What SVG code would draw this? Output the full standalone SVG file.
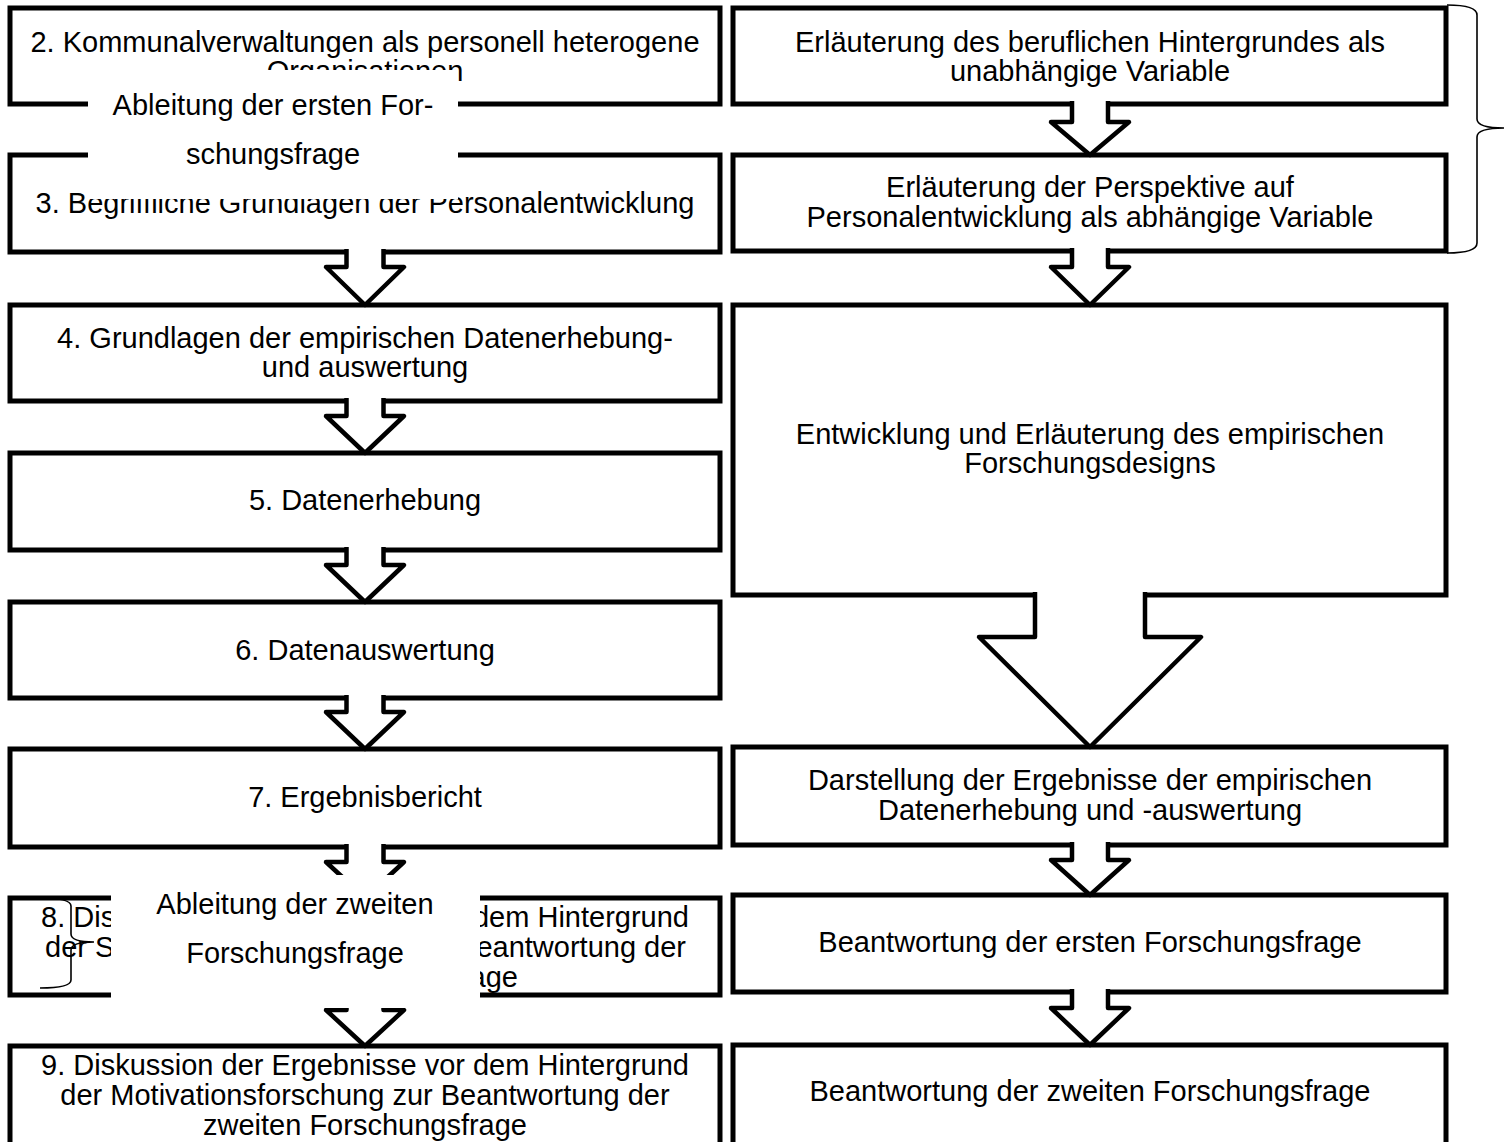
<svg xmlns="http://www.w3.org/2000/svg" width="1504" height="1142" viewBox="0 0 1504 1142">
  <style>
    .box { fill: #ffffff; stroke: #000000; stroke-width: 5; }
    .arrow { fill: #ffffff; stroke: #000000; stroke-width: 4.5; stroke-linejoin: round; }
    .t { font-family: "Liberation Sans", Arial, sans-serif; font-size: 29px; fill: #000000; text-anchor: middle; }
    .ts { text-anchor: start; }
    .te { text-anchor: end; }
    .mask { fill: #ffffff; stroke: none; }
    .brace { fill: none; stroke: #000000; stroke-width: 1.6; }
  </style>

  <!-- left column: chapter boxes -->
  <g id="kap2"><rect class="box" x="10" y="8" width="710" height="96"/>
    <text class="t" x="365" y="52">2. Kommunalverwaltungen als personell heterogene</text>
    <text class="t" x="365" y="81">Organisationen</text></g>
  <g id="kap3"><rect class="box" x="10" y="155" width="710" height="97"/>
    <text class="t" x="365" y="213">3. Begriffliche Grundlagen der Personalentwicklung</text></g>
  <g id="kap4"><rect class="box" x="10" y="305" width="710" height="96"/>
    <text class="t" x="365" y="348">4. Grundlagen der empirischen Datenerhebung-</text>
    <text class="t" x="365" y="377">und auswertung</text></g>
  <g id="kap5"><rect class="box" x="10" y="453" width="710" height="97"/>
    <text class="t" x="365" y="510">5. Datenerhebung</text></g>
  <g id="kap6"><rect class="box" x="10" y="602" width="710" height="96"/>
    <text class="t" x="365" y="660">6. Datenauswertung</text></g>
  <g id="kap7"><rect class="box" x="10" y="749" width="710" height="98"/>
    <text class="t" x="365" y="807">7. Ergebnisbericht</text></g>
  <g id="kap8"><rect class="box" x="10" y="898" width="710" height="97"/>
    <text class="t" x="365" y="927">8. Diskussion der Ergebnisse vor dem Hintergrund</text>
    <text class="t ts" x="45" y="957">der S</text>
    <text class="t te" x="686" y="957">Beantwortung der</text>
    <text class="t te" x="518" y="987">Forschungsfrage</text>
    <path class="brace" d="M40,898 Q71,898 71,906 L71,934 Q71,942 94,942 Q71,942 71,950 L71,980 Q71,988 40,988"/></g>
  <g id="kap9"><rect class="box" x="10" y="1046" width="710" height="100"/>
    <text class="t" x="365" y="1075">9. Diskussion der Ergebnisse vor dem Hintergrund</text>
    <text class="t" x="365" y="1105">der Motivationsforschung zur Beantwortung der</text>
    <text class="t" x="365" y="1135">zweiten Forschungsfrage</text></g>

  <!-- right column: content steps -->
  <g id="hintergrund"><rect class="box" x="733" y="8" width="713" height="96"/>
    <text class="t" x="1090" y="52">Erläuterung des beruflichen Hintergrundes als</text>
    <text class="t" x="1090" y="81">unabhängige Variable</text></g>
  <g id="perspektive"><rect class="box" x="733" y="155" width="713" height="96"/>
    <text class="t" x="1090" y="197">Erläuterung der Perspektive auf</text>
    <text class="t" x="1090" y="227">Personalentwicklung als abhängige Variable</text></g>
  <g id="design"><rect class="box" x="733" y="305" width="713" height="290"/>
    <text class="t" x="1090" y="444">Entwicklung und Erläuterung des empirischen</text>
    <text class="t" x="1090" y="473">Forschungsdesigns</text></g>
  <g id="ergebnisse"><rect class="box" x="733" y="747" width="713" height="98"/>
    <text class="t" x="1090" y="790">Darstellung der Ergebnisse der empirischen</text>
    <text class="t" x="1090" y="820">Datenerhebung und -auswertung</text></g>
  <g id="frage1"><rect class="box" x="733" y="895" width="713" height="97"/>
    <text class="t" x="1090" y="952">Beantwortung der ersten Forschungsfrage</text></g>
  <g id="frage2"><rect class="box" x="733" y="1045" width="713" height="101"/>
    <text class="t" x="1090" y="1101">Beantwortung der zweiten Forschungsfrage</text></g>

  <!-- block arrows between the steps -->
  <g id="connectors">
    <path class="arrow" d="M346.5,101 V119 H326 L365,155 L404,119 H383.5 V101"/>
    <path class="arrow" d="M346.5,249 V267 H326 L365,305 L404,267 H383.5 V249"/>
    <path class="arrow" d="M346.5,398 V416 H326 L365,453 L404,416 H383.5 V398"/>
    <path class="arrow" d="M346.5,547 V565 H326 L365,602 L404,565 H383.5 V547"/>
    <path class="arrow" d="M346.5,695 V712 H326 L365,749 L404,712 H383.5 V695"/>
    <path class="arrow" d="M346.5,844 V862 H326 L365,898 L404,862 H383.5 V844"/>
    <path class="arrow" d="M346.5,992 V1010 H326 L365,1046 L404,1010 H383.5 V992"/>

    <path class="arrow" d="M1072,101 V122 H1051 L1090,155 L1129,122 H1108 V101"/>
    <path class="arrow" d="M1072,248 V267 H1051 L1090,305 L1129,267 H1108 V248"/>
    <path class="arrow" d="M1035,592 V637 H979 L1090,747 L1201,637 H1145 V592"/>
    <path class="arrow" d="M1072,842 V860 H1051 L1090,895 L1129,860 H1108 V842"/>
    <path class="arrow" d="M1072,989 V1008 H1051 L1090,1045 L1129,1008 H1108 V989"/>
  </g>

  <!-- research-question labels laid over the left column -->
  <g id="frage1-label">
    <rect class="mask" x="88" y="70" width="370" height="129"/>
    <text class="t" x="273" y="115">Ableitung der ersten For-</text>
    <text class="t" x="273" y="164">schungsfrage</text>
  </g>
  <g id="frage2-label">
    <rect class="mask" x="111" y="875" width="369" height="133"/>
    <text class="t" x="295" y="914">Ableitung der zweiten</text>
    <text class="t" x="295" y="963">Forschungsfrage</text>
  </g>

  <!-- brace grouping the two variable boxes -->
  <path id="variablen-klammer" class="brace" d="M1447,5 Q1477,5 1477,15 L1477,119 Q1477,128 1504,128 Q1477,128 1477,137 L1477,243 Q1477,253 1447,253"/>
</svg>
